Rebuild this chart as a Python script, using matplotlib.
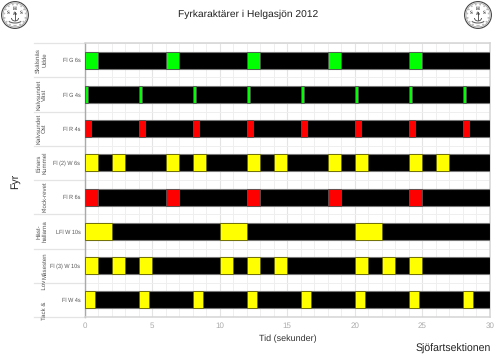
import numpy as np
import matplotlib
matplotlib.use('Agg')
import matplotlib.pyplot as plt
from matplotlib.patches import Circle, Arc

plt.rcParams['font.family'] = ['Liberation Sans', 'DejaVu Sans']
# small labels get far too wide with hinting on
plt.rcParams['text.hinting'] = 'no_hinting'
plt.rcParams['text.hinting_factor'] = 8

# rows from top to bottom
fyrar = ['Skälsnäs\nUdde', 'Kalvsundet\nVäst', 'Kalvsundet\nOst', 'Einars\nKummel',
         'Klock-revet', 'Häst-\nhallarna', 'Måsesten', 'Tack &       Lov']
karaktar = ['Fl G 6s', 'Fl G 4s', 'Fl R 4s', 'Fl (2) W 6s',
            'Fl R 6s', 'LFl W 10s', 'Fl (3) W 10s', 'Fl W 4s']
farger = ['#00ff00', '#00ff00', '#ff0000', '#ffff00',
          '#ff0000', '#ffff00', '#ffff00', '#ffff00']

# when each light comes on (seconds) and how long it stays on
starter = [
    [0, 6, 12, 18, 24],
    [0, 4, 8, 12, 16, 20, 24, 28],
    [0, 4, 8, 12, 16, 20, 24, 28],
    [0, 2, 6, 8, 12, 14, 18, 20, 24, 26],
    [0, 6, 12, 18, 24],
    [0, 10, 20],
    [0, 2, 4, 10, 12, 14, 20, 22, 24],
    [0, 4, 8, 12, 16, 20, 24, 28],
]
langd = [1, 0.25, 0.45, 1, 1, 2, 1, 0.75]
tid_max = 30

W, H = 500, 359
fig = plt.figure(figsize=(W / 100, H / 100), dpi=100)


def box(x0, y0, x1, y1):
    return [x0 / W, 1 - y1 / H, (x1 - x0) / W, (y1 - y0) / H]


ax = fig.add_axes(box(84.5, 43, 490, 317))
n = len(fyrar)
y = np.arange(n)
ax.set_ylim(n - 0.5, -0.5)
ax.set_xlim(0, tid_max)

ax.barh(y, [tid_max] * n, height=0.5, color='black', edgecolor='#777777', linewidth=0.8, zorder=3)
for i in range(n):
    ax.barh([y[i]] * len(starter[i]), [langd[i]] * len(starter[i]), left=starter[i], height=0.5,
            color=farger[i], edgecolor='#666600' if farger[i] == '#ffff00' else '#555555',
            linewidth=0.6, zorder=4)

ax.set_xticks(np.arange(0, 31, 5))
ax.set_xticks(np.arange(0, 31, 1), minor=True)
ax.set_yticks(y)
ax.set_yticks(np.arange(-0.5, n), minor=True)
ax.set_yticklabels(karaktar, fontsize=4.0, color='#555555')
ax.tick_params(axis='x', which='major', length=0, labelsize=5.8, labelcolor='#aaaaaa', pad=4)
ax.tick_params(axis='both', which='minor', length=0)
ax.tick_params(axis='y', which='major', length=0, pad=3)
ax.grid(True, which='major', axis='x', color='#e4e4e4', linewidth=0.8, zorder=0)
ax.grid(True, which='minor', color='#efefef', linewidth=0.7, zorder=0)
ax.set_axisbelow(True)
for side in ['top', 'right', 'bottom']:
    ax.spines[side].set_color('#d4d4d4')
    ax.spines[side].set_linewidth(1.1)
ax.spines['left'].set_color('#aaaaaa')
ax.spines['left'].set_linewidth(1.0)

# rotated light names and row separators to the left of the plot
trans = ax.get_yaxis_transform()
plot_bredd = 405.5
for i in range(n):
    x_namn = 41.5 if '\n' in fyrar[i] else 44.5
    ax.text((x_namn - 84.5) / plot_bredd, y[i], fyrar[i], transform=trans, rotation=90, ha='center', va='center',
            fontsize=4.4, color='#555555', linespacing=1.1, multialignment='center')
for s in np.arange(-0.5, n + 0.5):
    ax.plot([-50 / plot_bredd, 0], [s, s], transform=trans, color='#e4e4e4', linewidth=0.9, clip_on=False, zorder=1)

fig.text(248 / W, 1 - 14.5 / H, 'Fyrkaraktärer i Helgasjön 2012', ha='center', va='center',
         fontsize=7.35, color='#222222')
fig.text(15 / W, 1 - 181 / H, 'Fyr', rotation=90, ha='center', va='center', fontsize=7.6, color='#222222')
fig.text(287.5 / W, 1 - 339 / H, 'Tid (sekunder)', ha='center', va='center', fontsize=6.5, color='#333333')
fig.text(491 / W, 1 - 349 / H, 'Sjöfartsektionen', ha='right', va='center', fontsize=7.6, color='#222222')


def logo(cx, cy):
    a = fig.add_axes(box(cx - 15, cy - 15, cx + 15, cy + 15))
    a.set_xlim(-15, 15)
    a.set_ylim(-15, 15)
    a.axis('off')
    a.add_patch(Circle((0, 0), 13.4, fill=False, edgecolor='#444444', linewidth=0.8))
    a.add_patch(Circle((0, 0), 12.0, fill=False, edgecolor='#888888', linewidth=0.4))
    a.add_patch(Circle((0, 0), 10.8, fill=False, edgecolor='#bbbbbb', linewidth=1.2, linestyle=':'))
    for t, tx, ty in [('H', 0, 6), ('S', -6.5, 2), ('S', 6.5, 2), ('&', 0, 1)]:
        a.text(tx, ty, t, ha='center', va='center', fontsize=3.6, color='#333333', family='Liberation Serif',
               fontweight='bold')
    a.plot([0, 0], [-5, 3], color='#444444', linewidth=0.6)
    a.add_patch(Arc((0, -3), 7, 6, theta1=180, theta2=360, edgecolor='#444444', linewidth=0.6))
    a.add_patch(Arc((0, -4), 15, 8, theta1=200, theta2=340, edgecolor='#666666', linewidth=0.8))


logo(15, 15)
logo(478, 15)

fig.savefig('out.png', dpi=100)
